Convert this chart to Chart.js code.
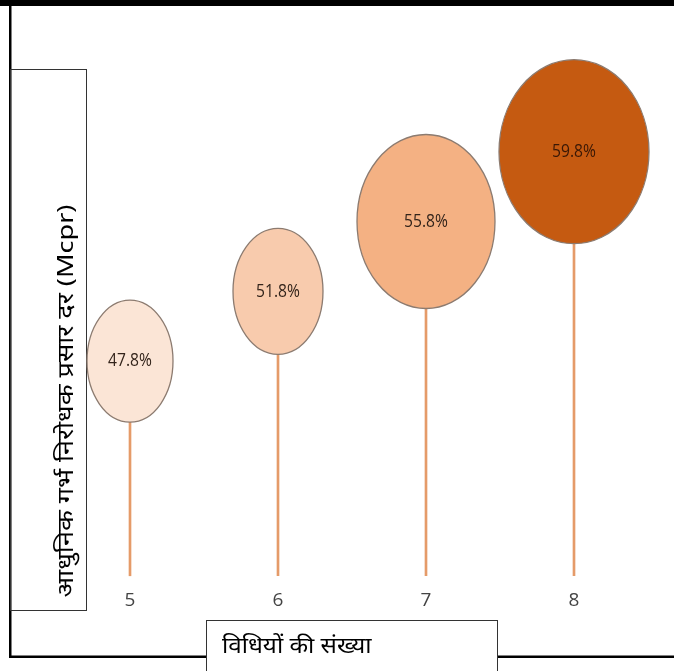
<!DOCTYPE html>
<html><head><meta charset="utf-8">
<script src="https://cdn.jsdelivr.net/npm/chart.js@4"></script>
<style>html,body{margin:0;padding:0;background:#fff;overflow:hidden}#c{display:block}</style>
</head><body>
<canvas id="c" width="674" height="671"></canvas>
<script>
// ---- data ----
const methodCounts = [5, 6, 7, 8];
const mcprValues = [47.8, 51.8, 55.8, 59.8];
const valueLabels = ['47.8%', '51.8%', '55.8%', '59.8%'];
const xTickLabels = ['5', '6', '7', '8'];
const xAxisTitle = 'विधियों की संख्या';
const yAxisTitle = 'आधुनिक गर्भ निरोधक प्रसार दर (Mcpr)';

// ---- styles ----
const bubbleFills = ['#FBE5D6', '#F8CBAD', '#F4B183', '#C55A11'];
const bubbleHalfAxes = [[43, 61], [45, 63], [69, 87], [75, 92]];
const stickColor = '#E59B69';
const narrowFont = "'Liberation Sans Narrow', 'Open Sans', sans-serif";
const devaFont = "'Noto Sans', 'Lato', sans-serif";

const framePlugin = {
  id: 'frame',
  beforeDraw(chart) {
    const ctx = chart.ctx;
    ctx.save();
    ctx.fillStyle = '#fff';
    ctx.fillRect(0, 0, chart.width, chart.height);
    ctx.fillStyle = '#000';
    ctx.fillRect(0, 0, chart.width, 6);
    // left and bottom frame lines
    ctx.fillRect(9, 6, 2.5, 652);
    ctx.fillRect(9, 655.5, 197, 2.5);
    ctx.fillRect(498, 655.5, chart.width - 498, 2.5);
    // y title box
    ctx.strokeStyle = '#333';
    ctx.lineWidth = 1;
    ctx.strokeRect(10.5, 69.5, 76, 541);
    // x title box
    ctx.strokeRect(206.5, 620.5, 291, 60);
    // titles
    ctx.fillStyle = '#000';
    ctx.font = '22px ' + devaFont;
    ctx.textBaseline = 'middle';
    ctx.textAlign = 'left';
    ctx.save();
    ctx.translate(222, 647);
    ctx.scale(1.1, 1);
    ctx.fillText(xAxisTitle, 0, 0);
    ctx.restore();
    ctx.translate(67, 401);
    ctx.rotate(-Math.PI / 2);
    ctx.scale(1.23, 1);
    ctx.textAlign = 'center';
    ctx.fillText(yAxisTitle, 0, 0);
    ctx.restore();
  }
};

const ellipsePlugin = {
  id: 'ellipses',
  afterDatasetsDraw(chart) {
    const meta = chart.getDatasetMeta(1);
    const ctx = chart.ctx;
    meta.data.forEach((pt, i) => {
      const [rx, ry] = bubbleHalfAxes[i];
      ctx.save();
      ctx.beginPath();
      ctx.ellipse(pt.x, pt.y, rx, ry, 0, 0, Math.PI * 2);
      ctx.fillStyle = bubbleFills[i];
      ctx.fill();
      ctx.lineWidth = 1.3;
      ctx.strokeStyle = '#8c7b70';
      ctx.stroke();
      ctx.font = '17px ' + narrowFont;
      ctx.textAlign = 'center';
      ctx.textBaseline = 'middle';
      ctx.fillStyle = i === 3 ? '#3a1806' : '#33241b';
      ctx.translate(pt.x, pt.y);
      ctx.scale(0.92, 1.1);
      ctx.fillText(valueLabels[i], 0, 0);
      ctx.restore();
    });
  }
};

new Chart(document.getElementById('c'), {
  data: {
    datasets: [
      {
        type: 'bar',
        data: methodCounts.map((x, i) => ({ x: x, y: mcprValues[i] })),
        base: 35.5,
        barThickness: 2,
        backgroundColor: stickColor,
        order: 2
      },
      {
        type: 'scatter',
        data: methodCounts.map((x, i) => ({ x: x, y: mcprValues[i] })),
        pointRadius: 0,
        pointHoverRadius: 0,
        order: 1
      }
    ]
  },
  options: {
    responsive: false,
    animation: false,
    events: [],
    layout: { padding: { left: 56, right: 26, top: 40, bottom: 57 } },
    plugins: { legend: { display: false }, tooltip: { enabled: false } },
    scales: {
      x: {
        type: 'linear',
        offset: false,
        min: 4.5,
        max: 8.5,
        grid: { display: false, drawTicks: false, offset: false },
        border: { display: false },
        afterBuildTicks: s => { s.ticks = methodCounts.map(v => ({ value: v })); },
        afterFit: s => { s.height = 26; },
        ticks: {
          padding: 1,
          color: '#444444',
          font: { family: narrowFont, size: 19 },
          callback: (v) => xTickLabels[methodCounts.indexOf(v)]
        }
      },
      y: {
        type: 'linear',
        display: false,
        min: 34.8,
        max: 66.2
      }
    }
  },
  plugins: [framePlugin, ellipsePlugin]
});
</script>
</body></html>
